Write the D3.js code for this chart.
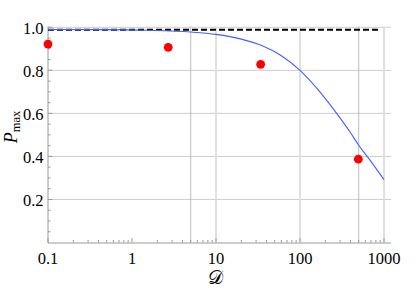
<!DOCTYPE html>
<html>
<head>
<meta charset="utf-8">
<script src="https://cdn.jsdelivr.net/npm/d3@7"></script>
<style>
	html, body { margin: 0; padding: 0; background: #fff; }
	svg { display: block; }
	.tick-label { font-family: "Liberation Serif", "DejaVu Serif", serif; font-size: 16.5px; fill: #000; }
</style>
</head>
<body>
<svg id="chart" width="415" height="306"></svg>
<script>
// data
const curveD = [0.1, 0.5, 1.5, 5, 10, 20, 35, 60, 100, 160, 250, 400, 500, 660, 1000];
const curveP = [0.99, 0.989, 0.986, 0.978, 0.967, 0.945, 0.915, 0.868, 0.80, 0.715, 0.62, 0.51, 0.452, 0.39, 0.292];
const pointsD = [0.1, 2.7, 34, 495];
const pointsP = [0.922, 0.907, 0.828, 0.387];
const limitP = 0.989;

const xTicks = [0.1, 1, 10, 100, 1000];
const xTickLabels = ["0.1", "1", "10", "100", "1000"];
const yTicks = [0.2, 0.4, 0.6, 0.8, 1.0];
const yTickLabels = ["0.2", "0.4", "0.6", "0.8", "1.0"];
const xGridMajor = [10, 100, 1000];
const xGridMinor = [5, 500];

const svg = d3.select("#chart");
const x = d3.scaleLog().domain([0.1, 1000]).range([48, 384]);
const y = d3.scaleLinear().domain([0, 1]).range([242.5, 27.3]);
const xEnd = 391, yTop = 26.5;

// gridlines
const grid = svg.append("g");
yTicks.forEach(v => {
	grid.append("line")
		.attr("x1", x(0.1)).attr("x2", xEnd)
		.attr("y1", y(v)).attr("y2", y(v))
		.attr("stroke", "#cdcdcd").attr("stroke-width", 1);
});
xGridMajor.forEach(v => {
	grid.append("line")
		.attr("x1", x(v)).attr("x2", x(v))
		.attr("y1", y(0)).attr("y2", yTop)
		.attr("stroke", "#e0e0e0").attr("stroke-width", 2);
});
xGridMinor.forEach(v => {
	grid.append("line")
		.attr("x1", x(v)).attr("x2", x(v))
		.attr("y1", y(0)).attr("y2", yTop)
		.attr("stroke", "#bdbdbd").attr("stroke-width", 1);
});

// axes
const axes = svg.append("g").attr("stroke", "#9a9a9a").attr("stroke-width", 1);
axes.append("line").attr("x1", x(0.1)).attr("x2", xEnd).attr("y1", y(0) + 0.5).attr("y2", y(0) + 0.5);
axes.append("line").attr("x1", x(0.1)).attr("x2", x(0.1)).attr("y1", y(0) + 0.5).attr("y2", yTop);

// x ticks (minor 2..9 each decade)
for (let dec = 0.1; dec < 1000; dec *= 10) {
	for (let k = 2; k <= 9; k++) {
		let v = dec * k;
		axes.append("line").attr("x1", x(v)).attr("x2", x(v))
			.attr("y1", y(0)).attr("y2", y(0) - 2.5);
	}
}
xTicks.forEach(v => {
	axes.append("line").attr("x1", x(v)).attr("x2", x(v))
		.attr("y1", y(0)).attr("y2", y(0) - 4.5);
});
// y ticks (minor every 0.05)
d3.range(1, 21).forEach(i => {
	let v = i * 0.05;
	let major = i % 4 === 0;
	axes.append("line").attr("x1", x(0.1)).attr("x2", x(0.1) + (major ? 4.5 : 2.5))
		.attr("y1", y(v)).attr("y2", y(v));
});

// tick labels
xTicks.forEach((v, i) => {
	svg.append("text").attr("class", "tick-label")
		.attr("x", x(v)).attr("y", 264)
		.attr("text-anchor", "middle")
		.text(xTickLabels[i]);
});
yTicks.forEach((v, i) => {
	svg.append("text").attr("class", "tick-label")
		.attr("x", 43.5).attr("y", y(v) + 7)
		.attr("text-anchor", "end")
		.text(yTickLabels[i]);
});

// axis titles
svg.append("text")
	.attr("x", 215).attr("y", 284)
	.attr("text-anchor", "middle")
	.style("font-family", "'DejaVu Serif', 'Liberation Serif', serif")
	.style("font-size", "19px")
	.text("\u{1D49F}");

const yt = svg.append("text")
	.attr("transform", "translate(16.5,127) rotate(-90)")
	.attr("text-anchor", "middle")
	.style("font-family", "'Liberation Serif', serif");
yt.append("tspan").style("font-size", "18px").style("font-style", "italic").text("P");
yt.append("tspan").style("font-size", "12.5px").attr("dy", 3).text("max");

// limit line
svg.append("line")
	.attr("x1", x(0.1)).attr("x2", x(900))
	.attr("y1", y(limitP)).attr("y2", y(limitP))
	.attr("stroke", "#000").attr("stroke-width", 2)
	.attr("stroke-dasharray", "6,3");

// curve
const line = d3.line()
	.x(d => x(d[0]))
	.y(d => y(d[1]))
	.curve(d3.curveMonotoneX);
svg.append("path")
	.datum(curveD.map((d, i) => [d, curveP[i]]))
	.attr("d", line)
	.attr("fill", "none")
	.attr("stroke", "#3f60ff")
	.attr("stroke-width", 1.1);

// points
svg.append("g").selectAll("circle")
	.data(pointsD.map((d, i) => [d, pointsP[i]]))
	.join("circle")
	.attr("cx", d => x(d[0]))
	.attr("cy", d => y(d[1]))
	.attr("r", 4.4)
	.attr("fill", "#ff0000");
</script>
</body>
</html>
